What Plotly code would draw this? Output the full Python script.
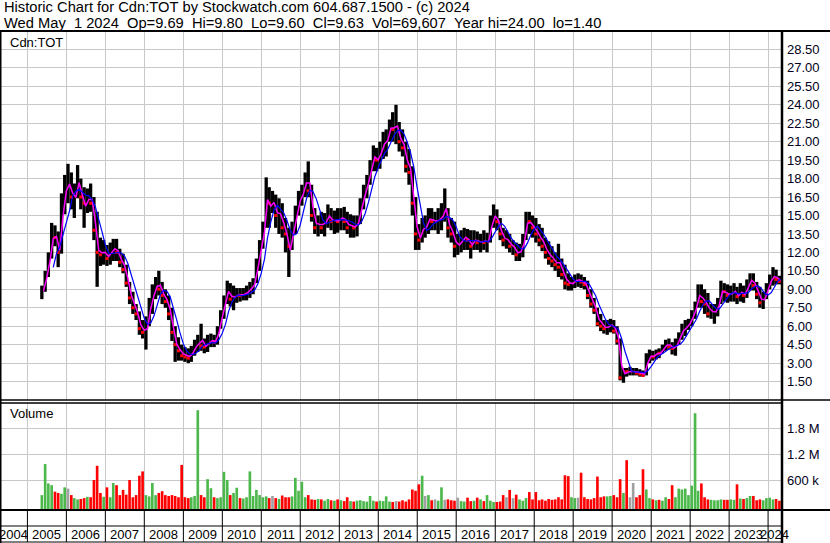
import pandas as pd
import plotly.graph_objects as go

# monthly bars, first month = May 2005
FIRST_MONTH = "2005-05-01"

HIGH = [
    9.3, 10.5, 12.0, 14.4, 14.2, 13.7, 16.8, 18.3,                       # 2005
    19.2, 18.5, 17.6, 19.1, 18.0, 17.3, 17.2, 17.6, 16.5, 15.3, 13.2, 13.0,  # 2006
    12.6, 12.8, 13.1, 13.1, 12.3, 11.9, 11.0, 9.6, 8.8, 7.8, 7.2, 6.5,       # 2007
    6.8, 8.3, 9.4, 10.0, 10.5, 9.6, 9.0, 8.5, 7.5, 6.0, 5.1, 4.5,            # 2008
    4.3, 4.2, 4.4, 4.9, 5.3, 6.2, 5.0, 5.3, 5.4, 5.3, 6.0, 7.3,              # 2009
    8.5, 9.7, 9.5, 9.3, 9.1, 9.1, 9.1, 9.3, 9.6, 9.9, 11.5, 13.0,            # 2010
    14.5, 18.1, 17.3, 17.0, 16.7, 16.4, 16.0, 14.8, 14.0, 14.5, 15.8, 17.0,  # 2011
    17.5, 18.5, 19.4, 17.5, 15.6, 15.0, 15.3, 15.2, 15.9, 15.6, 15.4, 15.6,  # 2012
    15.6, 15.7, 15.3, 15.1, 15.0, 15.0, 16.4, 17.5, 18.3, 19.5, 20.7, 20.5,  # 2013
    21.0, 21.8, 22.0, 22.8, 23.4, 24.0, 22.6, 22.0, 21.0, 20.4, 19.0, 16.5,  # 2014
    14.3, 14.8, 15.0, 15.6, 15.6, 15.3, 15.6, 16.0, 17.2, 15.6, 14.8, 14.5,  # 2015
    13.5, 13.8, 14.0, 13.9, 13.8, 13.8, 13.7, 13.5, 13.8, 13.6, 15.0, 15.9,  # 2016
    15.5, 14.8, 14.0, 13.8, 13.5, 13.0, 12.8, 12.7, 13.5, 15.3, 15.3, 15.0,  # 2017
    14.8, 14.3, 14.0, 13.2, 12.9, 12.5, 12.0, 12.7, 11.5, 11.0, 10.3, 10.0,  # 2018
    10.2, 10.3, 10.2, 10.0, 9.7, 9.0, 8.3, 7.5, 7.0, 6.5, 6.5, 6.6,          # 2019
    6.5, 6.0, 5.0, 2.6, 2.6, 2.7, 2.6, 2.6, 2.5, 2.4, 3.8, 4.1,              # 2020
    4.0, 4.1, 4.2, 4.5, 4.9, 5.0, 4.7, 5.0, 5.5, 6.2, 6.5, 6.6,              # 2021
    7.3, 8.0, 9.4, 9.4, 9.0, 8.7, 7.8, 7.8, 8.3, 9.7, 9.5, 9.4,              # 2022
    9.3, 9.5, 9.2, 9.5, 9.3, 9.8, 10.3, 10.3, 9.6, 9.2, 8.8, 9.5,            # 2023
    10.2, 10.8, 10.6, 10.1,                                                  # 2024
]

LOW = [
    8.2, 8.8, 10.0, 11.5, 12.5, 10.8, 11.9, 15.1,
    16.0, 15.5, 14.8, 16.4, 15.5, 14.0, 15.2, 15.3, 13.0, 9.2, 10.9, 11.0,
    10.9, 11.0, 11.3, 11.3, 10.8, 10.3, 9.2, 7.8, 7.0, 6.5, 5.3, 5.0,
    4.1, 6.0, 7.0, 8.2, 8.5, 7.8, 7.5, 6.5, 4.8, 3.1, 3.2, 3.2,
    3.1, 3.0, 3.1, 3.6, 3.9, 4.0, 3.8, 3.9, 4.3, 4.3, 4.5, 5.8,
    6.6, 7.8, 7.6, 7.3, 7.9, 8.0, 8.1, 8.1, 8.3, 8.6, 9.5, 10.5,
    12.3, 14.0, 14.0, 15.2, 14.0, 13.5, 13.2, 12.0, 10.0, 12.2, 13.5, 15.0,
    15.8, 16.5, 16.5, 14.5, 13.5, 13.3, 13.5, 13.3, 14.0, 13.8, 13.5, 13.6,
    13.8, 13.8, 13.5, 13.2, 13.2, 13.3, 14.3, 15.5, 16.4, 17.5, 18.6, 18.6,
    18.8, 19.6, 19.8, 21.0, 21.0, 20.8, 20.2, 19.8, 18.5, 17.5, 15.0, 12.2,
    12.2, 12.8, 13.2, 13.5, 13.8, 13.8, 13.5, 13.8, 14.5, 13.2, 12.8, 11.6,
    11.8, 12.0, 12.2, 12.2, 11.5, 12.2, 12.2, 12.0, 12.2, 12.0, 12.8, 14.0,
    13.8, 13.0, 12.5, 12.3, 12.0, 11.8, 11.3, 11.3, 11.6, 13.0, 13.5, 13.2,
    12.8, 12.5, 12.1, 11.5, 11.0, 10.8, 10.5, 10.0, 9.8, 9.0, 8.9, 8.9,
    9.1, 9.2, 9.1, 9.0, 8.2, 7.5, 7.0, 6.0, 5.6, 5.4, 5.3, 5.5,
    5.4, 4.5, 1.6, 1.4, 1.9, 2.0, 2.0, 2.0, 1.9, 1.9, 2.0, 3.0,
    3.2, 3.3, 3.4, 3.8, 4.0, 4.1, 3.7, 3.6, 4.5, 4.9, 5.2, 5.7,
    6.0, 6.6, 7.5, 7.5, 7.0, 6.7, 6.6, 6.2, 6.8, 7.8, 8.0, 7.9,
    8.0, 8.0, 7.8, 8.0, 7.9, 8.3, 8.9, 8.9, 8.2, 7.5, 7.4, 8.2,
    9.0, 9.3, 9.4, 9.4,
]

CLOSE = [
    9.0, 10.3, 11.8, 13.5, 13.2, 12.0, 16.0, 17.5,
    17.5, 16.5, 17.0, 17.5, 16.5, 16.0, 16.5, 16.0, 13.8, 12.0, 11.8, 12.0,
    11.5, 12.0, 12.5, 12.0, 11.2, 10.6, 9.5, 8.3, 7.5, 7.0, 5.8, 5.5,
    6.5, 7.8, 9.0, 9.5, 9.0, 8.5, 8.0, 7.0, 5.5, 4.5, 4.0, 3.6,
    3.5, 3.4, 3.9, 4.4, 4.6, 4.4, 4.3, 4.6, 4.8, 4.7, 5.8, 7.0,
    8.2, 9.0, 8.2, 8.5, 8.6, 8.5, 8.6, 8.9, 9.2, 9.6, 11.0, 12.8,
    14.2, 16.8, 16.0, 16.0, 15.0, 15.5, 14.0, 13.5, 12.5, 14.0, 15.5, 16.5,
    17.0, 18.0, 17.0, 15.0, 14.0, 14.5, 14.0, 14.8, 15.0, 14.5, 14.8, 14.5,
    15.0, 14.5, 14.0, 14.2, 14.0, 14.8, 16.0, 17.0, 18.0, 19.0, 20.0, 19.5,
    20.5, 21.0, 21.5, 22.5, 22.0, 22.0, 21.0, 20.5, 19.0, 18.5, 16.0, 13.5,
    13.0, 14.0, 14.0, 15.0, 14.5, 14.5, 14.8, 15.0, 15.0, 14.0, 13.5, 12.5,
    12.5, 13.0, 13.5, 13.0, 12.5, 13.0, 12.8, 13.0, 12.8, 13.0, 14.5, 15.0,
    14.5, 13.5, 13.0, 13.0, 12.5, 12.5, 11.8, 12.2, 13.2, 14.8, 14.5, 14.0,
    13.5, 13.0, 12.5, 12.0, 11.5, 11.3, 11.0, 10.8, 10.2, 9.5, 9.4, 9.5,
    9.8, 9.8, 9.6, 9.4, 8.5, 7.8, 7.3, 6.2, 6.0, 5.8, 6.0, 6.2,
    5.6, 4.8, 1.8, 2.4, 2.3, 2.3, 2.3, 2.2, 2.1, 2.0, 3.2, 3.6,
    3.5, 3.9, 3.8, 4.2, 4.5, 4.3, 4.2, 4.6, 5.2, 5.8, 5.9, 6.3,
    7.0, 7.6, 8.6, 8.0, 7.8, 7.0, 7.2, 7.5, 8.0, 9.0, 8.8, 8.5,
    8.6, 9.0, 8.4, 8.8, 8.5, 9.2, 10.0, 9.3, 8.6, 7.9, 8.2, 9.2,
    9.8, 10.0, 9.8, 9.63,
]

VOLUME = [
    250e3, 970e3, 520e3, 480e3, 330e3, 300e3, 280e3, 430e3,
    400e3, 250e3, 180e3, 150e3, 160e3, 180e3, 210e3, 200e3, 600e3, 930e3, 300e3, 210e3,
    430e3, 200e3, 530e3, 480e3, 250e3, 370e3, 260e3, 600e3, 200e3, 250e3, 700e3, 800e3,
    250e3, 220e3, 530e3, 250e3, 300e3, 340e3, 250e3, 230e3, 250e3, 230e3, 200e3, 950e3,
    200e3, 180e3, 200e3, 230e3, 2220e3, 250e3, 200e3, 620e3, 410e3, 200e3, 180e3, 200e3,
    790e3, 600e3, 250e3, 300e3, 420e3, 180e3, 170e3, 200e3, 800e3, 230e3, 370e3, 250e3,
    200e3, 220e3, 180e3, 230e3, 180e3, 160e3, 240e3, 200e3, 200e3, 220e3, 650e3, 350e3,
    560e3, 200e3, 250e3, 150e3, 140e3, 160e3, 150e3, 120e3, 160e3, 130e3, 120e3, 150e3,
    130e3, 110e3, 200e3, 110e3, 100e3, 120e3, 130e3, 110e3, 100e3, 230e3, 120e3, 100e3,
    120e3, 110e3, 220e3, 100e3, 90e3, 110e3, 100e3, 130e3, 100e3, 150e3, 380e3, 350e3,
    500e3, 700e3, 230e3, 250e3, 130e3, 150e3, 120e3, 430e3, 140e3, 150e3, 130e3, 120e3,
    190e3, 110e3, 100e3, 190e3, 110e3, 120e3, 190e3, 150e3, 110e3, 250e3, 120e3, 90e3,
    90e3, 100e3, 250e3, 200e3, 370e3, 180e3, 260e3, 150e3, 120e3, 180e3, 320e3, 150e3,
    320e3, 130e3, 150e3, 120e3, 160e3, 140e3, 150e3, 200e3, 150e3, 710e3, 690e3, 200e3,
    180e3, 190e3, 770e3, 200e3, 160e3, 150e3, 180e3, 680e3, 200e3, 220e3, 220e3, 230e3,
    250e3, 200e3, 620e3, 300e3, 1060e3, 200e3, 530e3, 200e3, 250e3, 850e3, 380e3, 180e3,
    150e3, 130e3, 140e3, 120e3, 200e3, 160e3, 480e3, 200e3, 400e3, 380e3, 400e3, 250e3,
    470e3, 2150e3, 350e3, 520e3, 200e3, 150e3, 140e3, 130e3, 130e3, 150e3, 140e3, 140e3,
    150e3, 140e3, 500e3, 170e3, 160e3, 180e3, 230e3, 230e3, 130e3, 150e3, 130e3, 180e3,
    190e3, 150e3, 160e3, 120e3,
]

PRICE_TICKS = [1.5, 3.0, 4.5, 6.0, 7.5, 9.0, 10.5, 12.0, 13.5, 15.0,
               16.5, 18.0, 19.5, 21.0, 22.5, 24.0, 25.5, 27.0, 28.5]
VOLUME_TICKS = [600e3, 1200e3, 1800e3]
VOLUME_TICK_TEXT = ["600 k", "1.2 M", "1.8 M"]
YEARS = list(range(2004, 2025))

TITLE_1 = "Historic Chart for Cdn:TOT by Stockwatch.com 604.687.1500 - (c) 2024"
TITLE_2 = ("Wed May  1 2024  Op=9.69  Hi=9.80  Lo=9.60  Cl=9.63  "
           "Vol=69,607  Year hi=24.00  lo=1.40")

X_RANGE = ["2004-04-19", "2024-05-01"]
VOL_FLOOR = -96e3

# pixel frame of the plot area
W, H = 830, 543
PL, PR, PT, PB = 0, 781, 31, 510
FONT = "Liberation Sans, Arial, sans-serif"
GRID = "#c8c8c8"


def py(pix):
    return (PB - pix) / (PB - PT)


def px(pix):
    return (pix - PL) / (PR - PL)


months = pd.date_range(FIRST_MONTH, periods=len(CLOSE), freq="MS")
mid = months + pd.Timedelta(days=15)
month_end = months + pd.offsets.MonthEnd(0)

df = pd.DataFrame({"high": HIGH, "low": LOW, "close": CLOSE, "vol": VOLUME})
typical = (df.high + df.low + df.close) / 3
fast_ma = typical
slow_ma = typical.rolling(4).mean()
change = df.close.diff().fillna(1)
down = change < 0
vol_colors = ["#ff0000" if c < 0 else ("#4cb84c" if c > 0 else "#a0a0a0") for c in change]

bar_w = 31 * 86400000

fig = go.Figure()

# price band (monthly high-low)
fig.add_trace(go.Bar(
    x=mid, y=df.high - df.low, base=df.low, width=bar_w,
    marker=dict(color="black", line_width=0),
    xaxis="x", yaxis="y", hoverinfo="skip",
))
fig.add_trace(go.Scatter(
    x=mid[down], y=df.close[down], mode="markers",
    marker=dict(symbol="square", size=3, color="#ff0000"),
    xaxis="x", yaxis="y", hoverinfo="skip",
))
fig.add_trace(go.Scatter(
    x=month_end, y=fast_ma, mode="lines",
    line=dict(color="#ff00ff", width=1.5),
    xaxis="x", yaxis="y", hoverinfo="skip",
))
fig.add_trace(go.Scatter(
    x=month_end, y=slow_ma, mode="lines",
    line=dict(color="#0000ff", width=1.2),
    xaxis="x", yaxis="y", hoverinfo="skip",
))

# volume
fig.add_trace(go.Bar(
    x=mid, y=df.vol - VOL_FLOOR, base=VOL_FLOOR, width=bar_w * 0.8,
    marker=dict(color=vol_colors, line_width=0),
    xaxis="x", yaxis="y2", hoverinfo="skip",
))

shapes = []


def hline(pix_y, x0=0, x1=W, width=1.0):
    shapes.append(dict(type="line", xref="paper", yref="paper",
                       x0=px(x0), x1=px(x1), y0=py(pix_y), y1=py(pix_y),
                       line=dict(color="black", width=width)))


def vline(pix_x, y0, y1, width=1.0):
    shapes.append(dict(type="line", xref="paper", yref="paper",
                       x0=px(pix_x), x1=px(pix_x), y0=py(y0), y1=py(y1),
                       line=dict(color="black", width=width)))


hline(31, width=2)
hline(400, width=1.5)
hline(403, x1=PR, width=1.5)
hline(510, width=2)
hline(526, x1=PR)
hline(542, x1=PR)
vline(0.5, 31, 543, width=2)
vline(782, 31, 543, width=2.5)

# year dividers in the date strip
for yr in YEARS[1:]:
    shapes.append(dict(type="line", xref="x", yref="paper",
                       x0=f"{yr}-01-01", x1=f"{yr}-01-01", y0=py(510), y1=py(542),
                       line=dict(color="black", width=1)))

annotations = []
x_lo = pd.Timestamp(X_RANGE[0])
x_hi = pd.Timestamp(X_RANGE[1])
for yr in YEARS:
    a = max(pd.Timestamp(f"{yr}-01-01"), x_lo)
    b = min(pd.Timestamp(f"{yr + 1}-01-01"), x_hi)
    annotations.append(dict(
        x=a + (b - a) / 2, xref="x", y=py(534), yref="paper",
        text=str(yr), showarrow=False, xanchor="center", yanchor="middle",
        font=dict(family=FONT, size=13, color="black"),
    ))

for text, pix_y in [(TITLE_1, 7), (TITLE_2, 23)]:
    annotations.append(dict(
        x=px(2), xref="paper", y=py(pix_y), yref="paper",
        text=text.replace(" ", "\u00a0"), showarrow=False,
        xanchor="left", yanchor="middle",
        font=dict(family=FONT, size=14.7, color="black"),
    ))

for text, pix_y in [("Cdn:TOT", 42), ("Volume", 413)]:
    annotations.append(dict(
        x=px(8), xref="paper", y=py(pix_y), yref="paper",
        text=text, showarrow=False, xanchor="left", yanchor="middle",
        font=dict(family=FONT, size=13, color="black"),
    ))

fig.update_layout(
    width=W, height=H,
    margin=dict(l=PL, r=W - PR, t=PT, b=H - PB),
    paper_bgcolor="white", plot_bgcolor="white",
    showlegend=False, hovermode=False, barmode="overlay",
    font=dict(family=FONT, size=13, color="#000020"),
    xaxis=dict(
        type="date", range=X_RANGE, anchor="y2",
        tick0="2005-01-01", dtick="M12",
        showgrid=True, gridcolor=GRID, gridwidth=1,
        showticklabels=False, ticks="", zeroline=False, showline=False,
    ),
    yaxis=dict(
        domain=[py(400), 1], range=[0, 30], side="right", anchor="x",
        tickmode="array", tickvals=PRICE_TICKS,
        ticktext=[f"{v:.2f}" for v in PRICE_TICKS],
        showgrid=True, gridcolor=GRID, gridwidth=1,
        zeroline=False, showline=False, ticks="", ticklabelstandoff=5,
    ),
    yaxis2=dict(
        domain=[0, py(403)], range=[VOL_FLOOR, 2387e3], side="right", anchor="x",
        tickmode="array", tickvals=VOLUME_TICKS, ticktext=VOLUME_TICK_TEXT,
        showgrid=True, gridcolor=GRID, gridwidth=1,
        zeroline=False, showline=False, ticks="", ticklabelstandoff=5,
    ),
    shapes=shapes, annotations=annotations,
)

# the page's default body margin would shift the chart off its 830x543 frame
fig.write_html(
    "out.html",
    config={"displayModeBar": False, "staticPlot": True},
    post_script="document.body.style.margin='0';document.body.style.overflow='hidden';",
)
